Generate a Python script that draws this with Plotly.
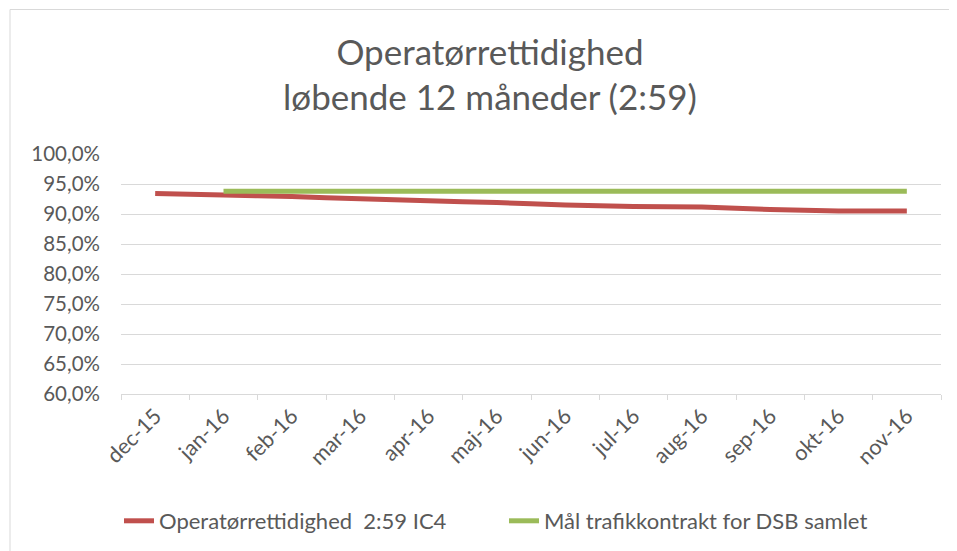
import plotly.graph_objects as go

categories = ["dec-15", "jan-16", "feb-16", "mar-16", "apr-16", "maj-16",
              "jun-16", "jul-16", "aug-16", "sep-16", "okt-16", "nov-16"]
operator_ic4 = [93.4, 93.15, 92.9, 92.55, 92.2, 91.9, 91.5, 91.25, 91.15, 90.75, 90.5, 90.5]
target_dsb = [None, 93.8, 93.8, 93.8, 93.8, 93.8, 93.8, 93.8, 93.8, 93.8, 93.8, 93.8]
y_ticks = [60, 65, 70, 75, 80, 85, 90, 95, 100]
y_tick_labels = ["60,0%", "65,0%", "70,0%", "75,0%", "80,0%", "85,0%", "90,0%", "95,0%", "100,0%"]

# page offset from default body margin
OFF = 8
W, H = 957 - OFF, 551 - OFF
# target screen positions
SL, SR, ST, SB = 121, 941, 154, 394
L, T = SL - OFF, ST - OFF
R = W - (SR - OFF)
B = H - (SB - OFF)
pw = W - L - R
ph = H - T - B

def px(x):
    return (x - OFF - L) / pw

def py(y):
    return (H - B - (y - OFF)) / ph

font_family = "Lato, 'Open Sans', sans-serif"
grey = "#595959"

fig = go.Figure()
fig.add_trace(go.Scatter(
    x=categories, y=operator_ic4, mode="lines",
    name="Operatørrettidighed  2:59 IC4",
    line=dict(color="#C0504D", width=5, shape="spline", smoothing=0.6),
))
fig.add_trace(go.Scatter(
    x=categories, y=target_dsb, mode="lines",
    name="Mål trafikkontrakt for DSB samlet",
    line=dict(color="#9BBB59", width=5),
))

fig.update_layout(
    width=W, height=H, autosize=False,
    margin=dict(l=L, r=R, t=T, b=B, autoexpand=False),
    paper_bgcolor="white", plot_bgcolor="white",
    font=dict(family=font_family, color=grey),
    title=dict(
        text="Operatørrettidighed<br>løbende 12 måneder (2:59)",
        x=px(490), xref="paper", xanchor="center",
        y=1 - (64.5 - OFF) / H, yref="container", yanchor="middle",
        font=dict(size=35, color=grey, family=font_family),
        automargin=False,
    ),
    showlegend=True,
    legend=dict(
        orientation="h", x=px(119), xanchor="left",
        y=py(521), yanchor="middle",
        font=dict(size=22, color=grey, family=font_family),
        tracegroupgap=0, entrywidth=340, entrywidthmode="pixels",
        bgcolor="rgba(0,0,0,0)",
    ),
    xaxis=dict(
        type="category", tickangle=-45, range=[-0.5, 11.5],
        tickson="boundaries", ticks="outside", ticklen=5, tickcolor="#D9D9D9",
        showline=True, linecolor="#D9D9D9", linewidth=1,
        showgrid=False, zeroline=False, automargin=False,
        tickfont=dict(size=21.5, color=grey, family=font_family),
    ),
    yaxis=dict(
        range=[60, 100], tickvals=y_ticks, ticktext=y_tick_labels,
        showgrid=True, gridcolor="#D9D9D9", gridwidth=1,
        showline=False, zeroline=False, ticks="", automargin=False,
        ticklabelstandoff=20,
        tickfont=dict(size=20.5, color=grey, family=font_family),
    ),
    shapes=[dict(
        type="rect", xref="paper", yref="paper",
        x0=px(10), x1=px(965), y0=py(560), y1=py(9.5),
        line=dict(color="#D9D9D9", width=1), fillcolor="rgba(0,0,0,0)",
        layer="below",
    )],
)

fig.write_html("out.html")
